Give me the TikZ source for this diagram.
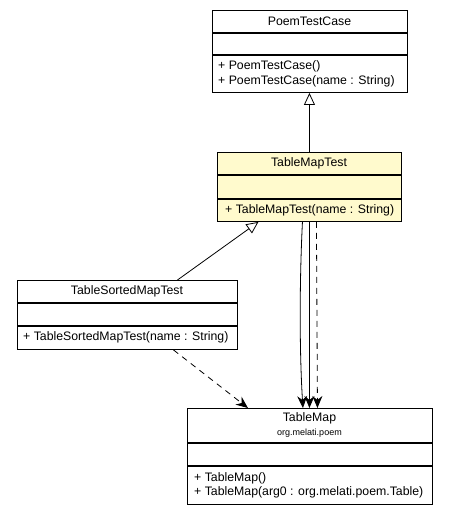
\documentclass[tikz,border=0pt]{standalone}
\usepackage{fontspec}
\setmainfont{Liberation Sans}
\usetikzlibrary{arrows.meta}
\definecolor{focus}{HTML}{FFFACD}
\tikzset{
  umlbox/.style={draw=black, line width=0.9pt, inner sep=0pt, anchor=north west},
  sep/.style={line width=1.1pt},
  lbl/.style={inner sep=0pt, font=\fontsize{12.3}{14}\selectfont},
  pkg/.style={inner sep=0pt, font=\fontsize{9}{10}\selectfont},
  op/.style={lbl, anchor=west},
  gen/.style={line width=0.8pt, -{Triangle[open, length=12pt, width=11pt, line width=0.8pt]}},
  nav/.style={line width=0.8pt, -{Stealth[length=12pt, width=10pt, inset=4pt]}},
  dep/.style={nav, dash pattern=on 6pt off 5pt},
}
\begin{document}
\begin{tikzpicture}[x=1pt, y=-1pt]
\useasboundingbox (0,0) rectangle (448,515);
% PoemTestCase
\node[umlbox, minimum width=195pt, minimum height=82pt] (ptc) at (212,10) {};
\draw[sep] (212,33) -- (407,33) (212,55) -- (407,55);
\node[lbl] (ptct) at (309.5,21.5) {PoemTestCase};
\node[op] (ptco1) at (218,66) {+ PoemTestCase()};
\node[op] (ptco2) at (218,81) {+ PoemTestCase(name : String)};
% TableMapTest
\node[umlbox, fill=focus, minimum width=184pt, minimum height=69pt] (tmt) at (217,152) {};
\draw[sep] (217,175) -- (401,175) (217,199) -- (401,199);
\node[lbl] (tmtt) at (309,163.5) {TableMapTest};
\node[op] (tmto1) at (225,210) {+ TableMapTest(name : String)};
% TableSortedMapTest
\node[umlbox, minimum width=220pt, minimum height=69pt] (tsmt) at (17,280) {};
\draw[sep] (17,303) -- (237,303) (17,326) -- (237,326);
\node[lbl] (tsmtt) at (127,291.5) {TableSortedMapTest};
\node[op] (tsmto1) at (23,337.5) {+ TableSortedMapTest(name : String)};
% TableMap
\node[umlbox, minimum width=245pt, minimum height=96pt] (tm) at (187,408) {};
\draw[sep] (187,443) -- (432,443) (187,466) -- (432,466);
\node[lbl] (tmt1) at (309.5,418) {TableMap};
\node[pkg] (tmpkg) at (309.5,433) {org.melati.poem};
\node[op] (tmo1) at (194,478) {+ TableMap()};
\node[op] (tmo2) at (194,492) {+ TableMap(arg0 : org.melati.poem.Table)};
% connectors
\draw[gen] (tmt.north) -- (tmt.north |- ptc.south);
\draw[gen] ([xshift=50pt]tsmt.north) -- ([xshift=-51pt]tmt.south);
\draw[dep] ([xshift=46pt]tsmt.south) -- ([xshift=-62pt]tm.north);
\draw[nav] ([xshift=-7pt]tmt.south) .. controls ([xshift=-10pt,yshift=-60pt]tmt.south) and ([xshift=-10pt,yshift=-130pt]tmt.south) .. ([xshift=-6.5pt]tmt.south |- tm.north);
\draw[nav] (tmt.south) -- (tmt.south |- tm.north);
\draw[dep] ([xshift=7pt]tmt.south) -- ([xshift=8pt]tmt.south |- tm.north);
\end{tikzpicture}
\end{document}
